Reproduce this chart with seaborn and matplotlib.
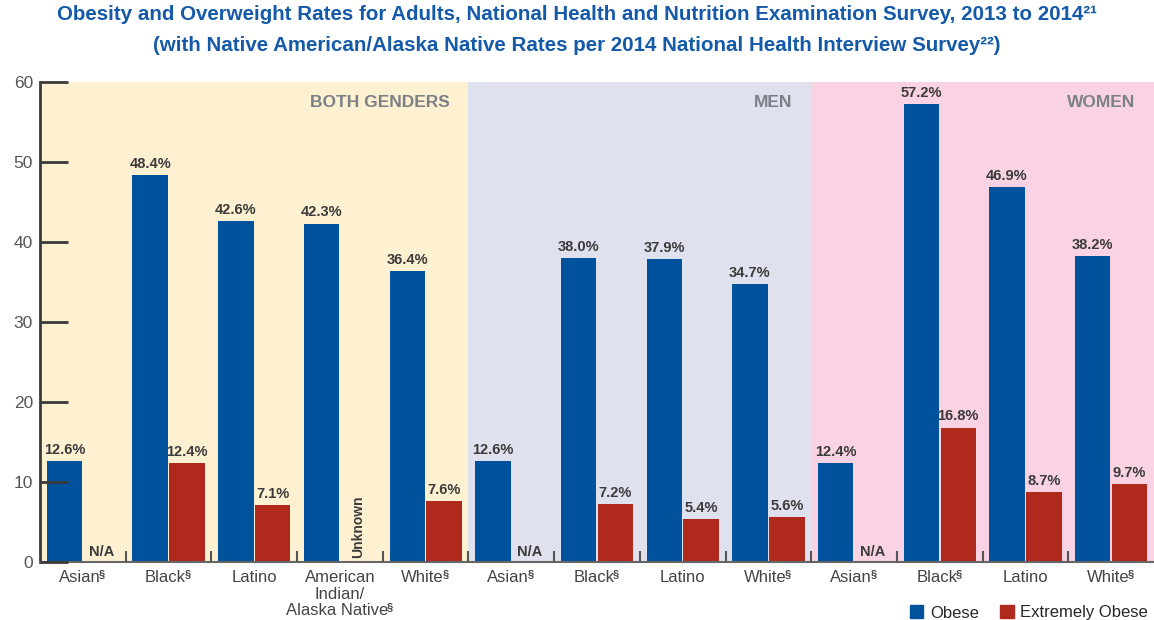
import numpy as np
import pandas as pd
import matplotlib
matplotlib.use("Agg")
import matplotlib.pyplot as plt
import matplotlib.transforms as mtransforms
import seaborn as sns
from matplotlib import font_manager
from matplotlib.patches import Patch

# ---- data -------------------------------------------------------------
groups = ["BOTH GENDERS"] * 5 + ["MEN"] * 4 + ["WOMEN"] * 4
races = ["Asian§", "Black§", "Latino", "American\nIndian/\nAlaska Native§", "White§",
         "Asian§", "Black§", "Latino", "White§",
         "Asian§", "Black§", "Latino", "White§"]
obese = [12.6, 48.4, 42.6, 42.3, 36.4,
         12.6, 38.0, 37.9, 34.7,
         12.4, 57.2, 46.9, 38.2]
extremely_obese = [np.nan, 12.4, 7.1, np.nan, 7.6,
                   np.nan, 7.2, 5.4, 5.6,
                   np.nan, 16.8, 8.7, 9.7]
missing_notes = ["N/A", "", "", "Unknown", "",
                 "N/A", "", "", "",
                 "N/A", "", "", ""]
measures = ["Obese", "Extremely Obese"]

# ---- style ------------------------------------------------------------
BLUE = "#00529c"
RED = "#b0291d"
TITLE_BLUE = "#145aa9"
BANDS = {"BOTH GENDERS": "#fdf1d2", "MEN": "#dfe1ef", "WOMEN": "#f9d3e3"}
DARK = "#3a3a3a"
LABEL = "#444444"

sns.set_theme(style="white")
available = {f.name for f in font_manager.fontManager.ttflist}
family = "Liberation Sans" if "Liberation Sans" in available else "DejaVu Sans"
plt.rcParams["font.family"] = [family, "DejaVu Sans"]

keys = [f"{g}|{i}" for i, g in enumerate(groups)]
df = pd.DataFrame({
    "key": keys * 2,
    "measure": [measures[0]] * len(keys) + [measures[1]] * len(keys),
    "value": obese + extremely_obese,
})

DPI = 100
fig = plt.figure(figsize=(11.54, 6.2), dpi=DPI)
ax = fig.add_axes([0.0347, 0.0935, 0.9653, 0.7742])

# coloured background bands, one per gender group
start = 0
for g in ["BOTH GENDERS", "MEN", "WOMEN"]:
    n = groups.count(g)
    ax.axvspan(start - 0.5, start + n - 0.5, color=BANDS[g], zorder=0, lw=0)
    ax.text(start + n - 0.5 - 0.22, 57.4, g, ha="right", va="center",
            fontsize=12.5, fontweight="bold", color="#7b8087")
    start += n

sns.barplot(data=df, x="key", y="value", hue="measure", order=keys,
            hue_order=measures, palette=[BLUE, RED], width=0.86, gap=0.04,
            errorbar=None, saturation=1, legend=False, ax=ax, zorder=2,
            linewidth=0, edgecolor="none")

for cont in ax.containers:
    ax.bar_label(cont, fmt="%.1f%%", padding=3, fontsize=10.5,
                 fontweight="bold", color=DARK)

# notes where no extremely-obese value exists
for i, note in enumerate(missing_notes):
    if not note:
        continue
    if note == "Unknown":
        ax.text(i + 0.215, 0.5, note, rotation=90, ha="center", va="bottom",
                fontsize=10, fontweight="bold", color=DARK)
    else:
        ax.text(i + 0.215, 0.35, note, ha="center", va="bottom",
                fontsize=10.5, fontweight="bold", color=DARK)

ax.set_xlim(-0.5, len(keys) - 0.5)
ax.set_ylim(0, 60)
ax.set_xlabel("")
ax.set_ylabel("")
ax.set_yticks(range(0, 61, 10))
ax.tick_params(axis="y", direction="in", length=20, width=2, color=DARK,
               labelsize=12.5, labelcolor="#555555", pad=5, left=True)

# category labels: one text per line on a shared baseline, with a small
# raised section mark placed right after the word
ax.set_xticks(range(len(keys)))
ax.set_xticklabels([""] * len(keys))
ax.tick_params(axis="x", which="major", length=0)
base = mtransforms.blended_transform_factory(ax.transData, ax.transAxes)
renderer = fig.canvas.get_renderer()
for i, race in enumerate(races):
    for j, line in enumerate(race.split("\n")):
        dy = -(20 + 16.5 * j)
        word = line.rstrip("§")
        t = ax.text(i, 0, word, transform=base, ha="left", va="baseline",
                    fontsize=12, color=LABEL, clip_on=False)
        w = t.get_window_extent(renderer).width
        s, sw = None, 0.0
        if line.endswith("§"):
            s = ax.text(i, 0, "§", transform=base, ha="left", va="baseline",
                        fontsize=8, fontweight="bold", color=LABEL, clip_on=False)
            sw = s.get_window_extent(renderer).width
        x0 = -(w + sw) / 2
        t.set_transform(base + mtransforms.ScaledTranslation(
            x0 / DPI, dy / DPI, fig.dpi_scale_trans))
        if s is not None:
            s.set_transform(base + mtransforms.ScaledTranslation(
                (x0 + w - 1.5) / DPI, (dy + 4.5) / DPI, fig.dpi_scale_trans))

ax.set_xticks(np.arange(0.5, len(keys) - 0.5, 1.0), minor=True)
ax.tick_params(axis="x", which="minor", direction="in", length=8, width=1.5,
               color="#555555", bottom=True)

for s in ["top", "right"]:
    ax.spines[s].set_visible(False)
ax.spines["left"].set_color(DARK)
ax.spines["left"].set_linewidth(2)
ax.spines["bottom"].set_color("#666666")
ax.spines["bottom"].set_linewidth(1.5)
ax.set_axisbelow(False)

fig.text(0.5, 0.976,
         "Obesity and Overweight Rates for Adults, National Health and Nutrition Examination Survey, 2013 to 2014²¹",
         ha="center", va="center", fontsize=14.8, fontweight="bold", color=TITLE_BLUE)
fig.text(0.5, 0.927,
         "(with Native American/Alaska Native Rates per 2014 National Health Interview Survey²²)",
         ha="center", va="center", fontsize=14.8, fontweight="bold", color=TITLE_BLUE)

handles = [Patch(color=BLUE, label="Obese"), Patch(color=RED, label="Extremely Obese")]
fig.legend(handles=handles, loc="lower right", bbox_to_anchor=(1.008, -0.025),
           ncol=2, frameon=False, fontsize=12, handlelength=0.8, handleheight=0.8,
           handletextpad=0.4, columnspacing=1.3)

fig.savefig("out.png", dpi=DPI)
